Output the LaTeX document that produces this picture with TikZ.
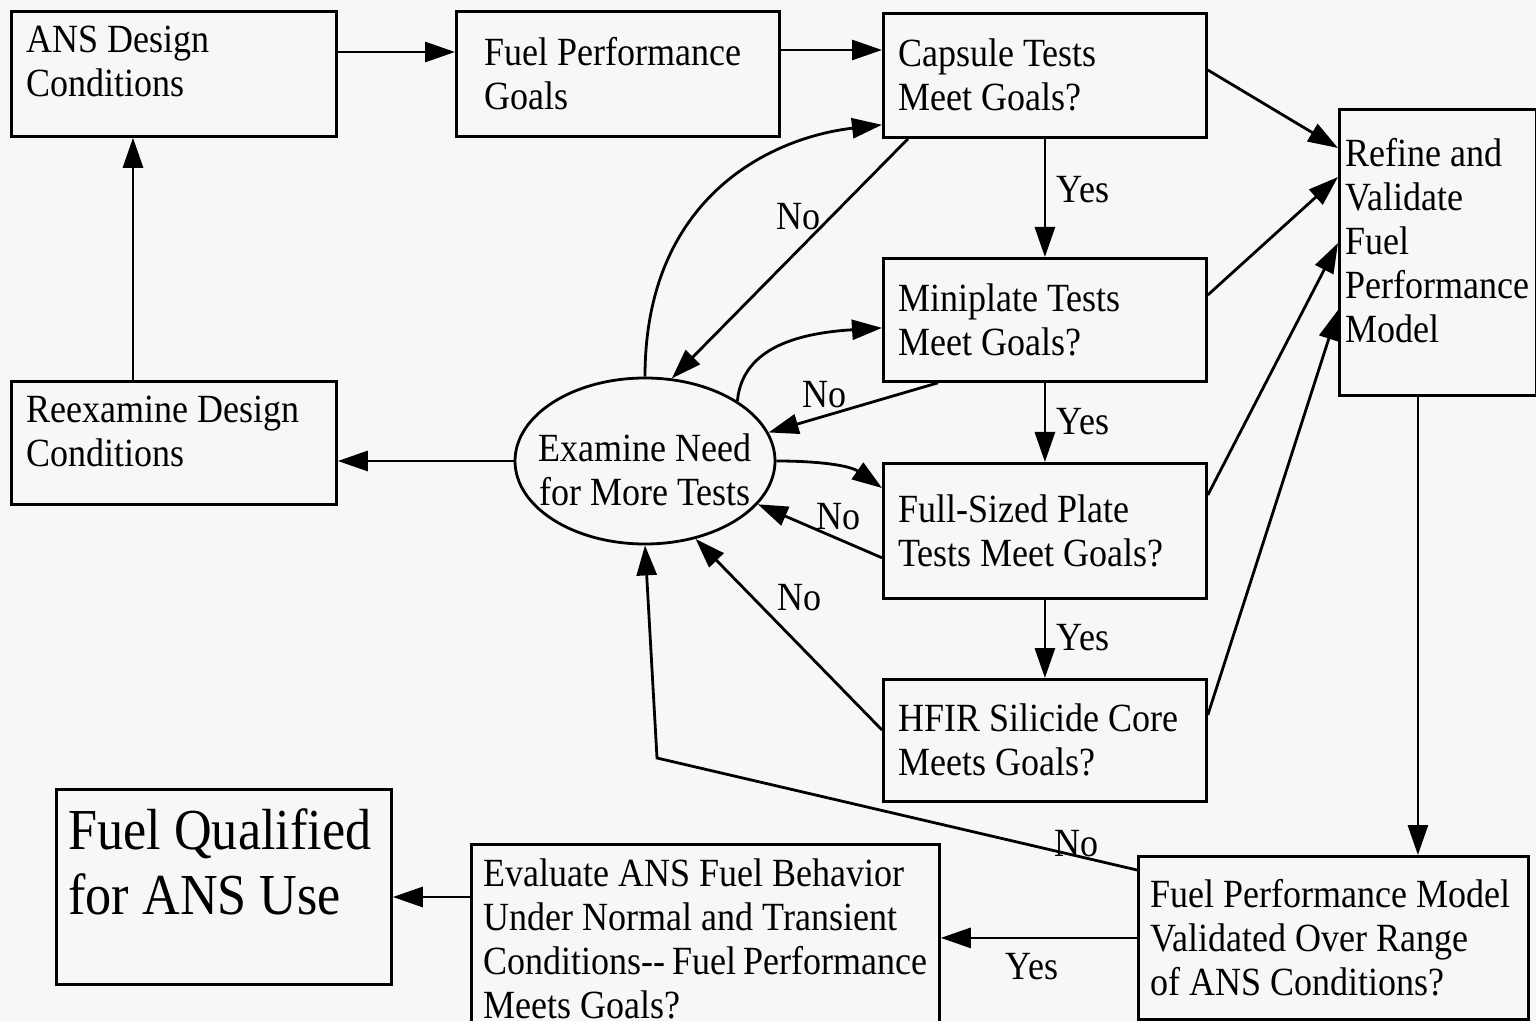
\documentclass[tikz,border=0pt]{standalone}
\usepackage{fontspec}
\setmainfont{Liberation Serif}[FakeStretch=0.9]
\usetikzlibrary{arrows.meta, shapes.geometric, positioning, calc}
\definecolor{paper}{RGB}{247,247,247}
\hyphenpenalty=10000
\exhyphenpenalty=10000

\begin{document}
\begin{tikzpicture}[
    x=0.5pt, y=-0.5pt,
    font=\fontsize{20}{22}\selectfont,
    box/.style={rectangle,draw,line width=1.4pt,anchor=north west,align=flush left,inner xsep=7.5pt,inner ysep=0pt},
    oval/.style={ellipse,draw,line width=1.4pt,align=center,inner xsep=-8pt,inner ysep=0pt,text height=45pt,minimum width=130pt,minimum height=83pt},
    lbl/.style={inner sep=0pt},
    arrow/.style={-{Triangle[length=15pt,width=10pt]},line width=1.4pt}
]
\fill[paper] (0,0) rectangle (1536,1021);
\useasboundingbox (0,0) rectangle (1536,1021);

% boxes
\node[box,minimum width=162.5pt,minimum height=62.5pt,text width=147.5pt] (ans) at (10,10) {ANS Design\\Conditions\par\kern12pt};
\node[box,minimum width=161.5pt,minimum height=62.5pt,inner xsep=14pt,text width=133.5pt] (goals) at (455,10) {Fuel Performance\\Goals};
\node[box,minimum width=161.5pt,minimum height=62pt,text width=146.5pt] (capsule) at (882,12) {Capsule Tests\\Meet Goals?};
\node[box,minimum width=98.5pt,minimum height=143pt,inner xsep=3pt,text width=92.5pt] (refine) at (1338,108) {Refine and\\Validate\\Fuel\\Performance\\Model\par\kern12pt};
\node[box,minimum width=161.5pt,minimum height=61.5pt,text width=146.5pt] (mini) at (882,257) {Miniplate Tests\\Meet Goals?};
\node[box,minimum width=161.5pt,minimum height=67.5pt,text width=146.5pt] (full) at (882,462) {Full-Sized Plate\\Tests Meet Goals?};
\node[box,minimum width=161.5pt,minimum height=61pt,text width=146.5pt] (hfir) at (882,678) {HFIR~Silicide~Core\\Meets Goals?};
\node[box,minimum width=162.5pt,minimum height=61.5pt,text width=147.5pt] (reexam) at (10,380) {Reexamine Design\\Conditions\par\kern11pt};
\node[oval] (examine) at (645,461) {Examine Need\\for More Tests};
\node[box,minimum width=167.5pt,minimum height=97.5pt,inner xsep=6pt,text width=155.5pt,font=\fontsize{29}{32.5}\selectfont] (qualified) at (55,788) {Fuel~Qualified\\for ANS Use\par\kern25pt};
\node[box,minimum width=234pt,minimum height=94pt,inner xsep=6pt,text width=222pt] (evaluate) at (470,843) {Evaluate~ANS~Fuel~Behavior\\Under~Normal~and~Transient\\Conditions-{}-~Fuel~Performance\\Meets Goals?};
\node[box,minimum width=195pt,minimum height=81.5pt,inner xsep=6pt,text width=183pt] (validated) at (1137,855) {Fuel~Performance~Model\\Validated Over Range\\of ANS Conditions?};

% labels
\node[lbl] (yes1) at (1083,190) {Yes};
\node[lbl] (yes2) at (1083,422) {Yes};
\node[lbl] (yes3) at (1083,638) {Yes};
\node[lbl] (yes4) at (1032,967) {Yes};
\node[lbl] (no1) at (798,217) {No};
\node[lbl] (no2) at (824,395) {No};
\node[lbl] (no3) at (838,517) {No};
\node[lbl] (no4) at (799,598) {No};
\node[lbl] (no5) at (1076,844) {No};

% connectors
\draw[arrow] ([yshift=-21pt]ans.north east) -- ([yshift=-21pt]ans.north east -| goals.west);
\draw[arrow] ([yshift=-20pt]goals.north east) -- ([yshift=-20pt]goals.north east -| capsule.west);
\draw[arrow] ([yshift=-29pt]capsule.north east) -- ([yshift=-20pt]refine.north west);
\draw[arrow] ([yshift=-19pt]mini.north east) -- ([yshift=-34.5pt]refine.north west);
\draw[arrow] ([yshift=-16.5pt]full.north east) -- ([yshift=-67.5pt]refine.north west);
\draw[arrow] ([yshift=-18.5pt]hfir.north east) -- ([yshift=-101pt]refine.north west);
\draw[arrow] (capsule) -- (mini);
\draw[arrow] (mini) -- (full);
\draw[arrow] (full) -- (hfir);
\draw[arrow] ([xshift=-10pt]refine.south) -- ([xshift=-10pt]refine.south |- validated.north);
\draw[arrow] (validated.west) -- (validated.west -| evaluate.east);
\draw[arrow] ([yshift=-27pt]evaluate.north west) -- ([yshift=-27pt]evaluate.north west -| qualified.east);
\coordinate (turn) at (657,758);
\draw[arrow] ([yshift=-7.5pt]validated.north west) -- (turn) -- (examine.south);
\draw[arrow] ([xshift=13pt]capsule.south west) -- (examine.72);
\draw[arrow] (examine.north) .. controls +(0,-178) and +(-113,13) .. ([yshift=7pt]capsule.south west);
\draw[arrow] ([xshift=28pt]mini.south west) -- (examine.13);
\draw[arrow] (examine.33) .. controls +(5,-55) and +(-80,5) .. ([yshift=-4pt]mini.west);
\draw[arrow] (examine.east) .. controls +(40,0) and +(-33,-23) .. ([yshift=-13pt]full.north west);
\draw[arrow] ([yshift=21pt]full.south west) -- (examine.-21);
\draw[arrow] ([yshift=-26pt]hfir.north west) -- (examine.-57);
\draw[arrow] (examine.west) -- (examine.west -| reexam.east);
\draw[arrow] ([xshift=61.5pt]reexam.north west) -- ([xshift=61.5pt]reexam.north west |- ans.south);
\end{tikzpicture}
\end{document}
